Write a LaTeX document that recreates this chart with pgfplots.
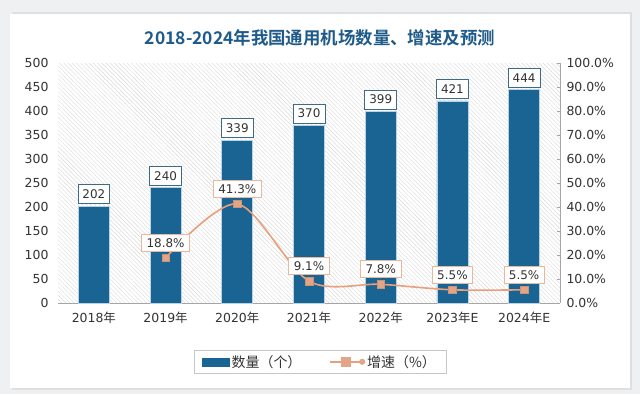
\documentclass[border=0pt]{standalone}
\usepackage{pgfplots}
\pgfplotsset{compat=1.18}
\usepackage{fontspec}
\setmainfont{DejaVu Sans}
\newfontfamily\cjk{Noto Sans CJK SC}
\newfontfamily\cjkb{Noto Sans CJK SC Bold}
\usetikzlibrary{patterns.meta}
\definecolor{bgout}{HTML}{EEF0F2}
\definecolor{barblue}{HTML}{1A6493}
\definecolor{baredge}{HTML}{B9D3E6}
\definecolor{lineorange}{HTML}{E99F7C}
\definecolor{mkorange}{HTML}{E2A587}
\definecolor{titleblue}{HTML}{1F5B8A}
\definecolor{txt}{HTML}{333333}
\definecolor{boxblue}{HTML}{3F6A85}
\definecolor{boxorange}{HTML}{E9B79E}
\definecolor{axgray}{HTML}{A6A6A6}

\pgfplotstableread{
x y
0 202
1 240
2 339
3 370
4 399
5 421
6 444
}\bardata
\pgfplotstableread{
x y
1 18.8
2 41.3
3 9.1
4 7.8
5 5.5
6 5.5
}\ratedata

\begin{document}
\begin{tikzpicture}[x=1bp,y=1bp]
\useasboundingbox (0,0) rectangle (640,394);
\fill[bgout] (0,0) rectangle (640,394);
\fill[gray!25] (12,4) rectangle (632,382);
\fill[white] (10,6) rectangle (630,380);
\fill[pattern={Lines[angle=-45,distance=3bp,line width=0.4bp]},pattern color=gray!30] (58,92) rectangle (560,331);
\node[text=titleblue,font=\cjkb\fontsize{17.5}{20}\selectfont] at (320,356) {2018-2024年我国通用机场数量、增速及预测};

\begin{axis}[
  at={(58bp,91bp)}, anchor=south west,
  scale only axis, width=502bp, height=240bp,
  xmin=-0.5, xmax=6.5, ymin=0, ymax=500,
  ytick={0,50,...,500},
  xtick={0,...,6},
  xticklabels={2018{\cjk 年},2019{\cjk 年},2020{\cjk 年},2021{\cjk 年},2022{\cjk 年},2023{\cjk 年}E,2024{\cjk 年}E},
  /pgf/number format/assume math mode=true,
  axis y line*=left, axis x line*=bottom,
  y axis line style={draw=none},
  x axis line style={axgray, line width=1bp},
  major tick length=0pt,
  tick label style={font=\fontsize{12.5}{14}\selectfont, text=txt},
  yticklabel style={xshift=-6bp},
  xticklabel style={yshift=-5bp},
  clip=false,
]
\addplot[ybar, bar width=31bp, fill=barblue, draw=baredge, line width=0.8bp,
  nodes near coords,
  every node near coord/.append style={draw=boxblue, fill=white, line width=0.8bp, text=txt,
    font=\fontsize{12}{14}\selectfont, inner xsep=4.5bp, inner ysep=5bp, anchor=south, yshift=2bp}]
  table[x=x,y=y] {\bardata};
\end{axis}

\begin{axis}[
  at={(58bp,91bp)}, anchor=south west,
  scale only axis, width=502bp, height=240bp,
  xmin=-0.5, xmax=6.5, ymin=0, ymax=100,
  ytick={0,10,...,100},
  axis y line*=right, axis x line=none,
  y axis line style={axgray, line width=0.8bp},
  ytick style={axgray, line width=0.8bp},
  tick align=inside, major tick length=3bp,
  /pgf/number format/assume math mode=true,
  yticklabel={\pgfmathprintnumber[fixed,precision=1,fixed zerofill]{\tick}\%},
  tick label style={font=\fontsize{12.5}{14}\selectfont, text=txt},
  yticklabel style={xshift=3bp},
  clip=false,
  legend style={at={(0.522,-0.245)}, anchor=center, draw=gray!45, fill=white,
    legend columns=2, font=\cjk\fontsize{14}{16}\selectfont, text=txt,
    inner xsep=8bp, inner ysep=3bp,
    /tikz/every even column/.append style={column sep=26bp}},
]
\addlegendimage{legend image code/.code={\fill[barblue] (0bp,-4bp) rectangle (27bp,4bp);}}
\addlegendentry{数量（个）}
\addplot[smooth, tension=0.5, lineorange, line width=1.6bp,
  mark=square*, mark size=3.8bp, mark options={fill=mkorange, draw=mkorange!90!black, line width=0.5bp},
  nodes near coords={\pgfmathprintnumber[fixed,precision=1,fixed zerofill]{\pgfplotspointmeta}\%},
  every node near coord/.append style={draw=boxorange, fill=white, line width=0.8bp, text=txt,
    font=\fontsize{12}{14}\selectfont, inner xsep=5bp, inner ysep=4bp, anchor=south, yshift=6bp},
  legend image code/.code={\draw[lineorange, line width=1.6bp] (0bp,0bp) -- (32bp,0bp); \fill[mkorange] (12bp,-4bp) rectangle (20bp,4bp); \fill[mkorange] (32bp,0bp) circle (2.2bp);}]
  table[x=x,y=y] {\ratedata};
\addlegendentry{增速（\%）}
\end{axis}
\end{tikzpicture}
\end{document}
